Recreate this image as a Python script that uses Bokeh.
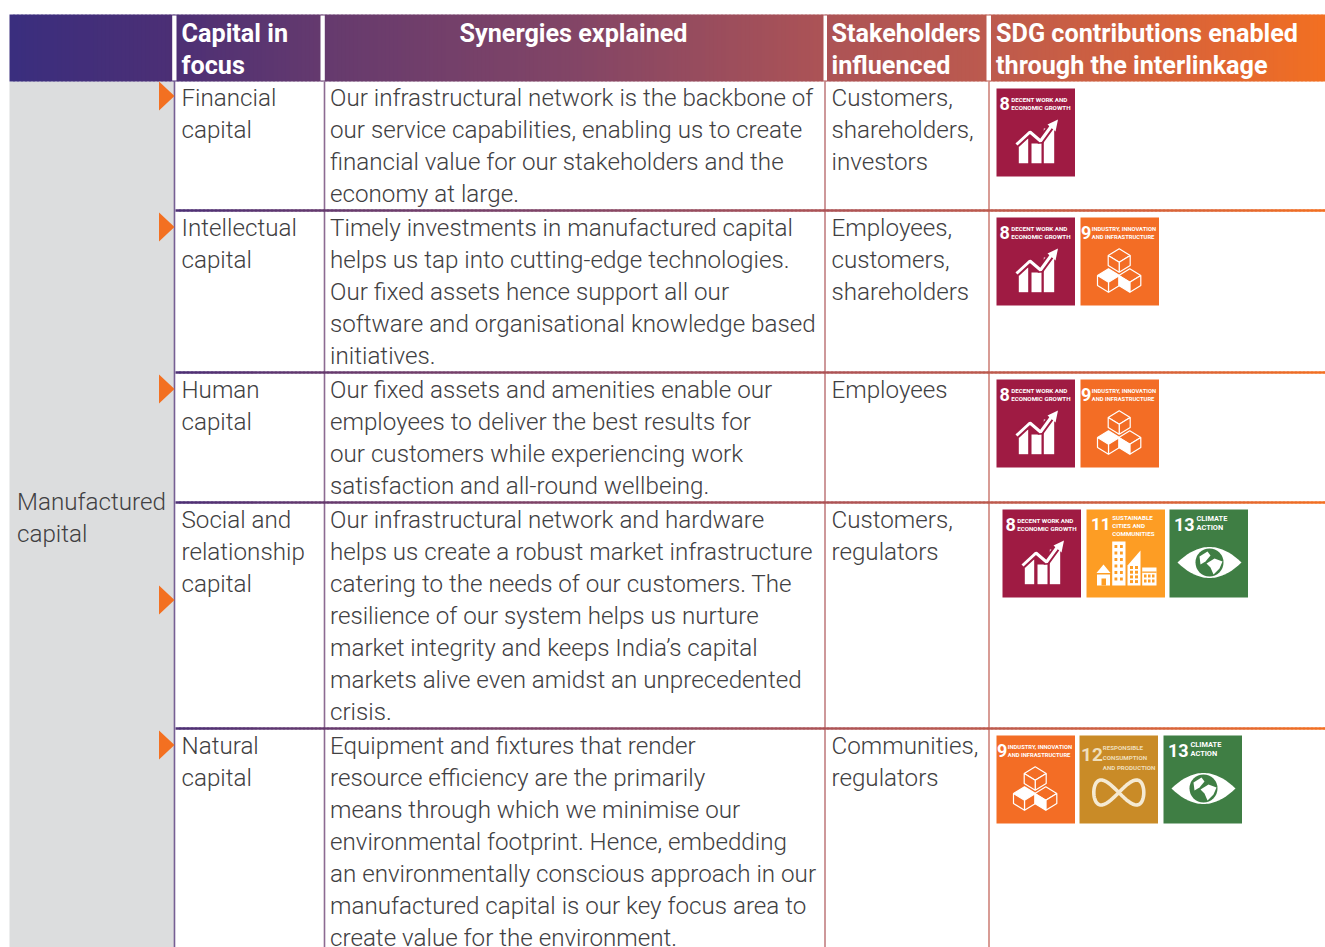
from bokeh.plotting import figure
from bokeh.models import Range1d
from bokeh.core.properties import value
from bokeh.embed import file_html
from bokeh.resources import INLINE
import numpy as np

W, H = 1325, 947

header_labels = [
    (181, ["Capital in", "focus"]),
    (459, ["Synergies explained"]),
    (831, ["Stakeholders", "influenced"]),
    (995.5, ["SDG contributions enabled", "through the interlinkage"]),
]
left_label = ["Manufactured", "capital"]
capitals = [["Financial", "capital"], ["Intellectual", "capital"], ["Human", "capital"],
            ["Social and", "relationship", "capital"], ["Natural", "capital"]]
synergies = [
    ["Our infrastructural network is the backbone of", "our service capabilities, enabling us to create",
     "financial value for our stakeholders and the", "economy at large."],
    ["Timely investments in manufactured capital", "helps us tap into cutting-edge technologies.",
     "Our fixed assets hence support all our", "software and organisational knowledge based", "initiatives."],
    ["Our fixed assets and amenities enable our", "employees to deliver the best results for",
     "our customers while experiencing work", "satisfaction and all-round wellbeing."],
    ["Our infrastructural network and hardware", "helps us create a robust market infrastructure",
     "catering to the needs of our customers. The", "resilience of our system helps us nurture",
     "market integrity and keeps India\u2019s capital", "markets alive even amidst an unprecedented", "crisis."],
    ["Equipment and fixtures that render", "resource efficiency are the primarily",
     "means through which we minimise our", "environmental footprint. Hence, embedding",
     "an environmentally conscious approach in our", "manufactured capital is our key focus area to",
     "create value for the environment."],
]
stakeholders = [["Customers,", "shareholders,", "investors"], ["Employees,", "customers,", "shareholders"],
                ["Employees"], ["Customers,", "regulators"], ["Communities,", "regulators"]]
row_sdgs = [[8], [8, 9], [8, 9], [8, 11, 13], [9, 12, 13]]
row_sdg_x = [[996], [996, 1080], [996, 1080], [1002, 1086, 1169], [996, 1079, 1163]]
row_sdg_y = [88, 217, 379, 509, 735]
row_first_baseline = [106, 236, 398, 528, 754]
row_lines_y = [210, 372, 502, 728]
arrow_tops = [81, 212, 374, 585, 730]

SDG_TITLE = {8: ["DECENT WORK AND", "ECONOMIC GROWTH"], 9: ["INDUSTRY, INNOVATION", "AND INFRASTRUCTURE"],
             11: ["SUSTAINABLE", "CITIES AND", "COMMUNITIES"], 12: ["RESPONSIBLE", "CONSUMPTION", "AND PRODUCTION"],
             13: ["CLIMATE", "ACTION"]}
SDG_COLOR = {8: "#9f1b43", 9: "#f36d25", 11: "#fd9d24", 12: "#c98b27", 13: "#3f7e44"}

BODY = "Roboto Light"
HEAD = "Roboto"
BODY_SIZE = 24.2
TEXT_C = "#414042"

stops_x = [9, 170, 320, 570, 820, 985, 1200, 1325]
stops_c = [(0x3a, 0x2e, 0x7e), (0x4c, 0x2f, 0x75), (0x65, 0x3a, 0x6e), (0x82, 0x45, 0x66),
           (0xac, 0x53, 0x56), (0xbc, 0x5a, 0x4e), (0xdd, 0x65, 0x35), (0xf3, 0x70, 0x21)]
def grad(x):
    return "#%02x%02x%02x" % tuple(int(round(np.interp(x, stops_x, [c[i] for c in stops_c]))) for i in range(3))

p = figure(width=W, height=H, x_range=Range1d(0, W), y_range=Range1d(H, 0),
           output_backend="svg", toolbar_location=None, min_border=0, outline_line_color=None,
           background_fill_color="white", border_fill_color="white")
p.axis.visible = False
p.grid.visible = False

def txt(x, y, s, size=BODY_SIZE, font=BODY, color=TEXT_C, style="normal"):
    # y is the wanted baseline; the svg text sits about a third of the font size below it
    p.text([x], [y - size / 3], text=[s], text_font=value(font), text_font_size=value(f"{size}px"),
           text_color=color, text_font_style=style, text_align="left", text_baseline="alphabetic")

# grey column
p.quad(left=[9], right=[174], top=[81], bottom=[960], fill_color="#dcddde", line_color=None)

# header gradient
xs = np.arange(9, 1330, 4)
p.quad(left=xs, right=xs + 5, top=14, bottom=81, fill_color=[grad(x) for x in xs], line_color=None)
for x0, x1 in [(171.7, 176), (320, 324.3), (823, 826.5), (986, 990.5)]:
    p.quad(left=[x0], right=[x1], top=[15], bottom=[80], fill_color="white", line_color=None)

# row rules
for y in row_lines_y:
    xr = np.arange(175, 1330, 4)
    p.quad(left=xr, right=xr + 5, top=y - 1.2, bottom=y + 1.2, fill_color=[grad(x) for x in xr], line_color=None)
# vertical rules
for x in [174, 324, 824.5, 988.5]:
    p.segment([x], [81], [x], [960], line_color=grad(x), line_width=1.6, line_alpha=0.75)

# arrows
for t in arrow_tops:
    p.patch([158.5, 174, 158.5], [t, t + 14.5, t + 29], fill_color="#f37021", line_color=None)

# header text
for x, lines in header_labels:
    for i, s in enumerate(lines):
        txt(x, 41.5 + 32 * i, s, size=25.2, font=HEAD, color="white", style="bold")

for i, s in enumerate(left_label):
    txt(16.5, 510 + 32 * i, s)

for r in range(5):
    b = row_first_baseline[r]
    for i, s in enumerate(capitals[r]):
        txt(181, b + 32 * i, s)
    for i, s in enumerate(synergies[r]):
        txt(329.5, b + 32 * i, s)
    for i, s in enumerate(stakeholders[r]):
        txt(831, b + 32 * i, s)

# ---- SDG icons
BW, BH = 78.5, 88

def icon_8(x, y):
    c = SDG_COLOR[8]
    for l, r, t in [(22.3, 31.7, 50), (35, 45, 55), (47.3, 57.7, 40)]:
        p.quad(left=[x + l], right=[x + r], top=[y + t], bottom=[y + 74.7], fill_color="white", line_color=None)
    lx = [x + 20, x + 33.5, x + 44, x + 56]
    ly = [y + 56, y + 43.5, y + 52.5, y + 36]
    p.line(lx, ly, line_color=c, line_width=7)
    p.line(lx, ly, line_color="white", line_width=3)
    p.patch([x + 51, x + 61.5, x + 59], [y + 36, y + 31, y + 43], fill_color="white", line_color=None)

def cube(x, y, cx, t, fill_face=None):
    s, d, h = 11, 6.7, 10
    top = [(cx, t), (cx + s, t + d), (cx, t + 2 * d), (cx - s, t + d)]
    right = [(cx + s, t + d), (cx + s, t + d + h), (cx, t + 2 * d + h), (cx, t + 2 * d)]
    left = [(cx - s, t + d), (cx, t + 2 * d), (cx, t + 2 * d + h), (cx - s, t + d + h)]
    for name, f in (("top", top), ("right", right), ("left", left)):
        solid = fill_face == name
        p.patch([x + a for a, _ in f], [y + b for _, b in f], fill_color="white" if solid else SDG_COLOR[9],
                line_color="white", line_width=1.2)

def icon_9(x, y):
    cube(x, y, 38.7, 31.3, None)
    cube(x, y, 28, 51.3, "top")
    cube(x, y, 49.3, 51.3, "left")

def icon_11(x, y):
    c = SDG_COLOR[11]
    p.patch([x + 10, x + 17, x + 24], [y + 63.5, y + 55, y + 63.5], fill_color="white", line_color=None)
    p.quad(left=[x + 10.5], right=[x + 23.5], top=[y + 65], bottom=[y + 76], fill_color="white", line_color=None)
    p.quad(left=[x + 15], right=[x + 19.5], top=[y + 69], bottom=[y + 76], fill_color=c, line_color=None)
    p.quad(left=[x + 25.7], right=[x + 39], top=[y + 32], bottom=[y + 76], fill_color="white", line_color=None)
    for i in range(6):
        for j in range(2):
            p.quad(left=[x + 28 + j * 5.5], right=[x + 30.8 + j * 5.5], top=[y + 35.5 + i * 6.5],
                   bottom=[y + 38.5 + i * 6.5], fill_color=c, line_color=None)
    p.patch([x + 41, x + 54, x + 54, x + 41], [y + 56, y + 41, y + 76, y + 76], fill_color="white", line_color=None)
    for i in range(4):
        for j in range(2):
            p.quad(left=[x + 43.5 + j * 5], right=[x + 46.5 + j * 5], top=[y + 56.5 + i * 4.7],
                   bottom=[y + 59.5 + i * 4.7], fill_color=c, line_color=None)
    p.quad(left=[x + 55.7], right=[x + 70], top=[y + 58], bottom=[y + 76], fill_color="white", line_color=None)
    p.quad(left=[x + 55.7], right=[x + 70], top=[y + 62], bottom=[y + 63.3], fill_color=c, line_color=None)
    for i in range(2):
        for j in range(3):
            p.quad(left=[x + 57.5 + j * 4], right=[x + 60 + j * 4], top=[y + 65 + i * 5],
                   bottom=[y + 68 + i * 5], fill_color=c, line_color=None)

def icon_12(x, y):
    t = np.linspace(0, 2 * np.pi, 80)
    p.line(x + 39.3 + 25 * np.cos(t), y + 57 + 12.5 * np.sin(2 * t), line_color="#f5ead2", line_width=3.6)

def icon_13(x, y):
    c = SDG_COLOR[13]
    u = np.linspace(-1, 1, 41)
    cx, cy = x + 40, y + 53
    ex = np.r_[cx + 32 * u, cx + 32 * u[::-1]]
    ey = np.r_[cy - 15.5 * (1 - u ** 2), cy + 15.5 * (1 - u[::-1] ** 2)]
    p.patch(ex, ey, fill_color="white", line_color=None)
    p.circle([cx], [cy], radius=14, fill_color=c, line_color=None)
    p.patch([cx - 10, cx - 2, cx + 1, cx - 4, cx - 9], [cy - 6, cy - 11, cy - 7, cy - 1, cy + 2], fill_color="white", line_color=None)
    p.patch([cx - 3, cx + 5, cx + 13, cx + 10, cx + 4, cx + 1], [cy + 1, cy - 4, cy - 1, cy + 6, cy + 12, cy + 5], fill_color="white", line_color=None)

ICON = {8: icon_8, 9: icon_9, 11: icon_11, 12: icon_12, 13: icon_13}
NUM_SIZE = {8: 18, 9: 18, 11: 17, 12: 19, 13: 18}
NUM_X = {8: 3, 9: 0.5, 11: 4.5, 12: 1.5, 13: 4.5}
NUM_Y = {8: 21, 9: 21, 11: 20, 12: 25, 13: 20.5}
TITLE_X = {8: 14.7, 9: 11.3, 11: 25.7, 12: 23.3, 13: 27}
TITLE_Y = {8: 13.2, 9: 13.2, 11: 11, 12: 14.5, 13: 11.5}
TITLE_STEP = {8: 8, 9: 8, 11: 7.8, 12: 10, 13: 8.5}
TITLE_SIZE = {8: 6.2, 9: 5.8, 11: 6.2, 12: 6.2, 13: 7.4}
TITLE_C = {8: "white", 9: "white", 11: "white", 12: "#efdfbc", 13: "white"}

for r, goals in enumerate(row_sdgs):
    y = row_sdg_y[r]
    for g, x in zip(goals, row_sdg_x[r]):
        p.quad(left=[x], right=[x + BW], top=[y], bottom=[y + BH], fill_color=SDG_COLOR[g], line_color=None)
        txt(x + NUM_X[g], y + NUM_Y[g], str(g), size=NUM_SIZE[g], font=HEAD, color=TITLE_C[g], style="bold")
        for i, s in enumerate(SDG_TITLE[g]):
            txt(x + TITLE_X[g], y + TITLE_Y[g] + TITLE_STEP[g] * i, s, size=TITLE_SIZE[g], font=HEAD,
                color=TITLE_C[g], style="bold")
        ICON[g](x, y)

open("out.html", "w").write(file_html(p, INLINE))
